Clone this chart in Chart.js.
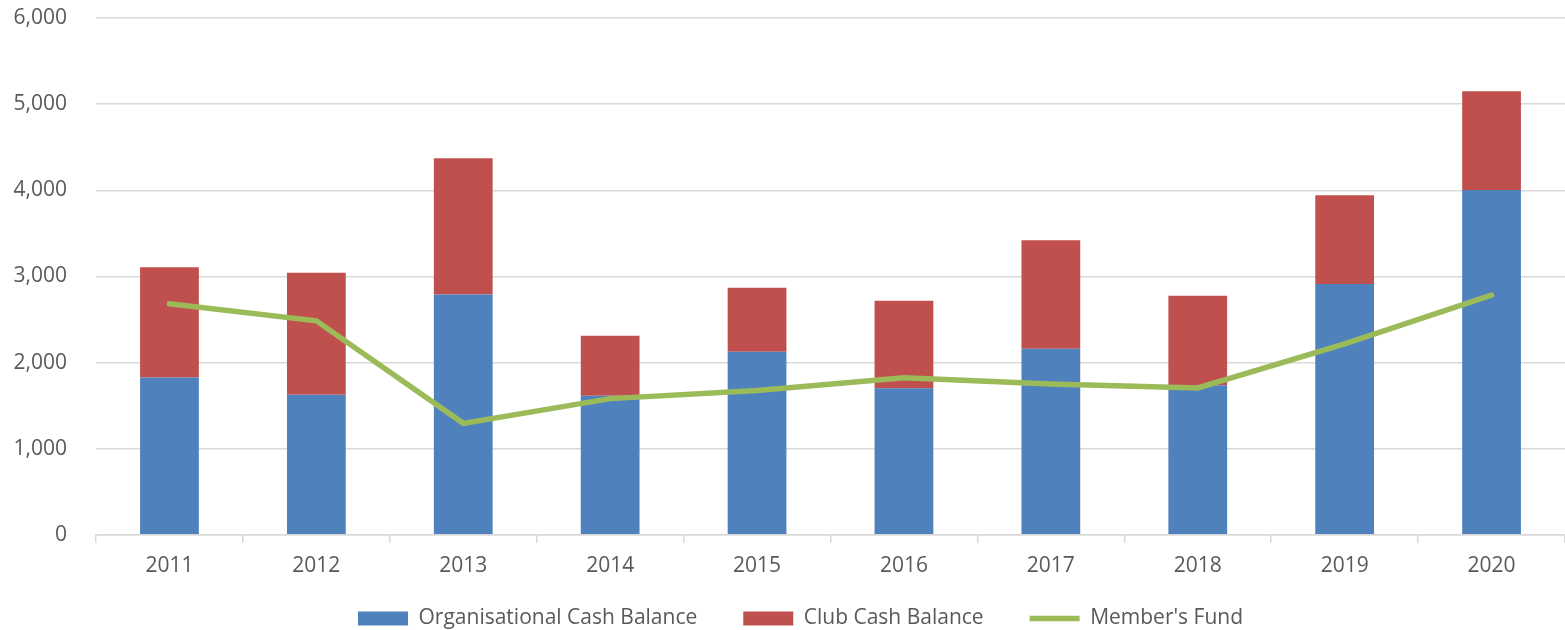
<!DOCTYPE html>
<html>
<head>
<meta charset="utf-8">
<script src="https://cdn.jsdelivr.net/npm/chart.js@4.4.1/dist/chart.umd.min.js"></script>
<style>
  html, body { margin: 0; padding: 0; background: #fff; }
  #wrap { width: 1565px; height: 630px; }
</style>
</head>
<body>
<div id="wrap"><canvas id="chart"></canvas></div>
<script>
// datos
const years = ['2011', '2012', '2013', '2014', '2015', '2016', '2017', '2018', '2019', '2020'];
const orgCash = [1826, 1627, 2791, 1613, 2124, 1701, 2159, 1736, 2911, 4004];
const clubCash = [1281, 1414, 1581, 697, 744, 1016, 1260, 1039, 1031, 1147];
const membersFund = [2683, 2484, 1294, 1581, 1674, 1822, 1752, 1705, 2217, 2783];
const yTicks = [0, 1000, 2000, 3000, 4000, 5000, 6000];

const textColor = '#595959';
const gridColor = '#D9D9D9';
const fontSize = 21;
const legendGap = 46;
Chart.defaults.font.family = '"Open Sans", sans-serif';
Chart.defaults.color = textColor;

// la leyenda ocupa menos alto y se corre un poco para parecerse al original
const legendFit = {
    id: 'legendFit',
    beforeInit(chart) {
        const fit = chart.legend.fit;
        chart.legend.fit = function () {
            fit.call(this);
            this.height = 40;
        };
    },
    afterLayout(chart) {
        const lg = chart.legend;
        lg.top -= 28;
        lg.bottom = chart.height;
        lg.left += 18;
        lg.right += 18;
    },
};

const config = {
    type: 'bar',
    data: {
        labels: years,
        datasets: [
            {
                label: 'Organisational Cash Balance',
                data: orgCash,
                backgroundColor: '#4F81BD',
                stack: 'cash',
                order: 1,
                pointStyle: 'rect',
                categoryPercentage: 1,
                barPercentage: 0.4,
            },
            {
                label: 'Club Cash Balance',
                data: clubCash,
                backgroundColor: '#C0504D',
                stack: 'cash',
                order: 1,
                pointStyle: 'rect',
                categoryPercentage: 1,
                barPercentage: 0.4,
            },
            {
                type: 'line',
                label: "Member's Fund",
                data: membersFund,
                borderColor: '#9BBB59',
                backgroundColor: '#9BBB59',
                borderWidth: 5.5,
                borderCapStyle: 'round',
                pointRadius: 0,
                pointStyle: 'line',
                stack: 'fund',
                order: 0,
                tension: 0,
            },
        ],
    },
    options: {
        responsive: true,
        maintainAspectRatio: false,
        animation: false,
        layout: { padding: { top: 18, right: 0, left: 0, bottom: 0 } },
        plugins: {
            tooltip: { enabled: false },
            legend: {
                position: 'bottom',
                labels: {
                    usePointStyle: true,
                    pointStyleWidth: 50,
                    boxHeight: 14,
                    padding: legendGap,
                    color: textColor,
                    font: { size: fontSize },
                    sort: (a, b) => a.datasetIndex - b.datasetIndex,
                },
            },
        },
        scales: {
            x: {
                stacked: true,
                offset: true,
                grid: {
                    offset: true,
                    drawOnChartArea: false,
                    color: gridColor,
                    lineWidth: 1.5,
                    tickLength: 8,
                },
                border: { display: true, color: gridColor, width: 1.5 },
                ticks: { color: textColor, font: { size: fontSize }, padding: 11 },
            },
            y: {
                stacked: true,
                min: 0,
                max: 6000,
                afterBuildTicks: scale => { scale.ticks = yTicks.map(v => ({ value: v })); },
                afterFit: scale => { scale.width = 96; },
                grid: {
                    color: gridColor,
                    lineWidth: 1.5,
                    tickLength: 29,
                    tickColor: 'rgba(0,0,0,0)',
                },
                border: { display: false },
                ticks: {
                    color: textColor,
                    font: { size: fontSize },
                    padding: 0,
                    callback: v => v.toLocaleString('en-US'),
                },
            },
        },
    },
    plugins: [legendFit],
};

const ctx = document.getElementById('chart');
window.myChart = new Chart(ctx, config);
</script>
</body>
</html>
